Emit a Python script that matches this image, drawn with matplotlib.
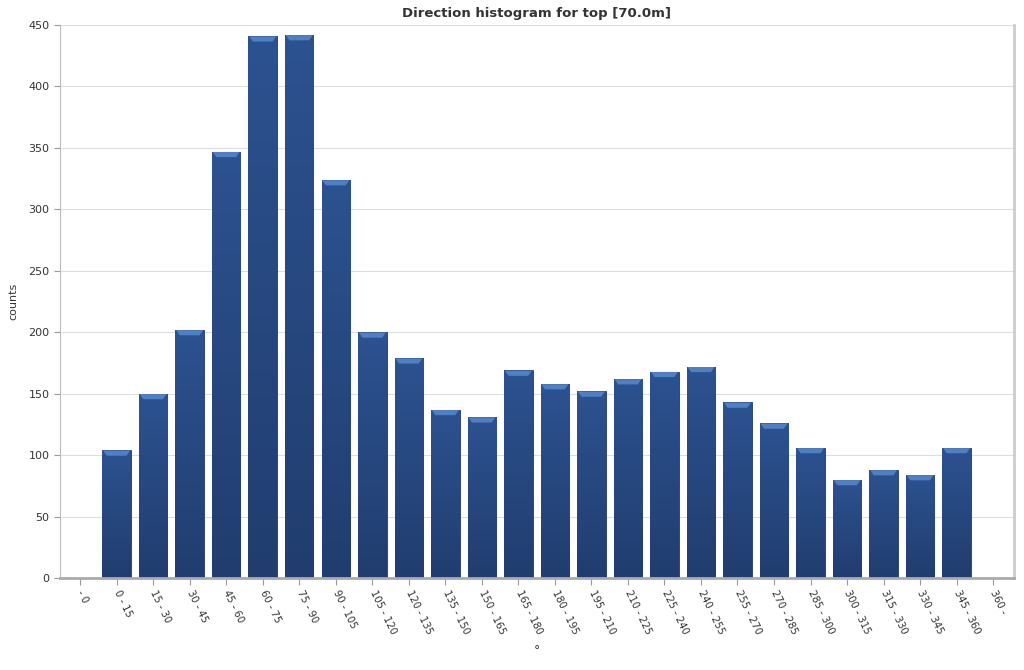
import numpy as np
import matplotlib.pyplot as plt
from matplotlib.colors import LinearSegmentedColormap

# direction sectors (deg) and counts
sectors = ["- 0", "0 - 15", "15 - 30", "30 - 45", "45 - 60", "60 - 75", "75 - 90",
           "90 - 105", "105 - 120", "120 - 135", "135 - 150", "150 - 165",
           "165 - 180", "180 - 195", "195 - 210", "210 - 225", "225 - 240",
           "240 - 255", "255 - 270", "270 - 285", "285 - 300", "300 - 315",
           "315 - 330", "330 - 345", "345 - 360", "360 -"]
counts = [0, 104, 150, 202, 347, 441, 442, 324, 200, 179, 137, 131, 169, 158,
          152, 162, 168, 172, 143, 126, 106, 80, 88, 84, 106, 0]

fig = plt.figure(figsize=(10.24, 6.7), dpi=100)
ax = fig.add_axes([0.0586, 0.1373, 0.9316, 0.8254])

x = np.arange(len(sectors))
bars = ax.bar(x, counts, width=0.78, color="#27497f", edgecolor="#1f3a68",
              linewidth=0.6, zorder=2)

# vertical gradient inside each bar + light bevel on top
cmap = LinearSegmentedColormap.from_list("bar", ["#213d6f", "#2c5290"])
grad = np.linspace(0, 1, 256).reshape(-1, 1)
for b in bars:
    h = b.get_height()
    if h <= 0:
        continue
    x0, w = b.get_x(), b.get_width()
    im = ax.imshow(grad, cmap=cmap, origin="lower", aspect="auto",
                   extent=(x0, x0 + w, 0, h), zorder=2.5)
    im.set_clip_path(b)
    ax.fill([x0 + 0.02, x0 + w - 0.02, x0 + w - 0.12, x0 + 0.12],
            [h - 0.3, h - 0.3, h - 4.5, h - 4.5],
            color="#4f7fc4", linewidth=0, zorder=3)

ax.set_xlim(-0.55, 25.57)
ax.set_ylim(0, 450)
ax.set_yticks(np.arange(0, 451, 50))
ax.set_xticks(x)
ax.set_xticklabels(sectors, rotation=-64, ha="left", va="center",
                   rotation_mode="anchor", fontsize=7.2, color="#333333")
ax.tick_params(axis="y", labelsize=8, colors="#999999", labelcolor="#333333",
               length=4, width=0.8)
ax.tick_params(axis="x", colors="#999999", labelcolor="#333333", length=5,
               width=0.8, pad=4)

ax.grid(axis="y", color="#dddddd", linewidth=0.8, zorder=0)
ax.set_axisbelow(True)
ax.spines["top"].set_visible(False)
ax.spines["left"].set_color("#bbbbbb")
ax.spines["bottom"].set_color("#aaaaaa")
ax.spines["bottom"].set_linewidth(2)
ax.spines["right"].set_color("#cccccc")
ax.spines["right"].set_linewidth(2)

ax.set_title("Direction histogram for top [70.0m]", fontsize=9.5,
             fontweight="bold", color="#333333", pad=6)
ax.set_ylabel("counts", fontsize=8, color="#333333")
ax.yaxis.set_label_coords(-0.044, 0.5)
fig.text(0.524, 0.029, "°", fontsize=9, color="#333333", ha="center", va="center")

fig.savefig("out.png", dpi=100)
